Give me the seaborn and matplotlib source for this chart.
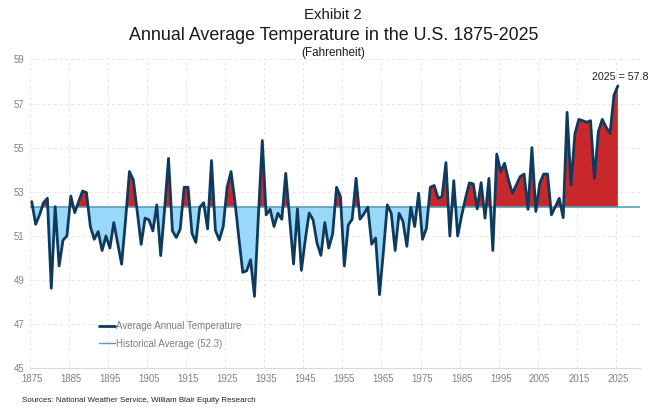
import numpy as np
import matplotlib
matplotlib.use("Agg")
import matplotlib.pyplot as plt
import seaborn as sns
import pandas as pd

# --- data (deg F) ---
years = list(range(1875, 2026))
temps = [
    52.55, 51.52, 51.95, 52.50, 52.70, 48.62, 52.32, 49.63, 50.80, 50.99,   # 1875-1884
    52.80, 52.05, 52.55, 53.03, 52.96, 51.42, 50.84, 51.19, 50.33, 50.99,   # 1885-1894
    50.44, 51.60, 50.66, 49.71, 51.70, 53.91, 53.53, 52.10, 50.61, 51.80,   # 1895-1904
    51.72, 51.22, 52.40, 50.10, 52.20, 54.51, 51.22, 50.92, 51.30, 53.20,   # 1905-1914
    53.20, 51.11, 50.70, 52.30, 52.50, 51.31, 54.41, 51.24, 50.81, 51.42,   # 1915-1924
    53.20, 53.91, 52.56, 50.90, 49.34, 49.41, 49.91, 48.25, 51.90, 55.32,   # 1925-1934
    51.95, 52.20, 51.42, 52.02, 51.75, 53.83, 51.80, 49.72, 52.22, 49.43,   # 1935-1944
    50.82, 52.03, 51.72, 50.67, 50.11, 51.60, 50.44, 51.08, 53.20, 52.78,   # 1945-1954
    49.63, 51.49, 51.75, 53.61, 51.75, 51.99, 52.30, 50.62, 50.90, 48.33,   # 1955-1964
    50.30, 52.40, 52.02, 50.33, 52.02, 51.65, 50.52, 52.30, 51.42, 52.93,   # 1965-1974
    50.84, 51.34, 53.20, 53.28, 52.70, 52.78, 54.32, 50.99, 53.50, 50.99,   # 1975-1984
    51.90, 52.70, 53.40, 53.35, 52.22, 53.41, 51.80, 53.60, 50.33, 54.71,   # 1985-1994
    53.91, 54.29, 53.53, 52.93, 53.30, 53.68, 53.80, 52.20, 55.00, 52.10,   # 1995-2004
    53.38, 53.80, 53.80, 51.95, 52.32, 52.70, 51.82, 56.60, 53.30, 55.62,   # 2005-2014
    56.28, 56.22, 56.15, 56.22, 53.60, 55.72, 56.28, 55.92, 55.65, 57.38,   # 2015-2024
    57.80,                                                                  # 2025
]
hist_avg = 52.3
x_ticks = list(range(1875, 2026, 10))
y_ticks = list(range(45, 60, 2))

df = pd.DataFrame({"Year": years, "Temp": temps})

sns.set_theme(style="white")
plt.rcParams['font.family'] = ['Liberation Sans', 'DejaVu Sans']

line_col = "#0D3B5E"
red = "#C8282C"
blue = "#9AD8FA"
avg_col = "#5A9DBB"
grid_col = "#E6E6E6"
tick_col = "#808080"

fig = plt.figure(figsize=(6.62, 4.07), dpi=100)
ax = fig.add_axes([0.045, 0.0958, 0.922, 0.7582])

yr = np.array(years, dtype=float)
tv = np.array(temps)
ax.fill_between(yr, tv, hist_avg, where=tv >= hist_avg, interpolate=True,
                color=red, linewidth=0, zorder=2)
ax.fill_between(yr, tv, hist_avg, where=tv <= hist_avg, interpolate=True,
                color=blue, linewidth=0, zorder=2)

ax.axhline(hist_avg, color=avg_col, linewidth=1.2, zorder=3)
sns.lineplot(data=df, x="Year", y="Temp", ax=ax, color=line_col, linewidth=2.0,
             zorder=4, legend=False)

ax.set_xlim(1874.5, 2030.7)
ax.set_ylim(45, 59)
ax.set_xticks(x_ticks)
ax.set_yticks(y_ticks)
ax.set_xticklabels([str(t) for t in x_ticks], fontsize=6.9, color=tick_col)
ax.set_yticklabels([str(t) for t in y_ticks], fontsize=6.9, color=tick_col)
ax.tick_params(axis="both", length=0, pad=4)
ax.set_xlabel("")
ax.set_ylabel("")

# dashed grid; vertical lines sit between categories like the original
for yv in y_ticks[1:]:
    ax.axhline(yv, color=grid_col, linewidth=0.7, linestyle=(0, (3, 3)), zorder=0)
for xv in x_ticks:
    ax.axvline(xv - 0.5, color=grid_col, linewidth=0.7, linestyle=(0, (3, 3)), zorder=0)

for s in ["top", "right", "left"]:
    ax.spines[s].set_visible(False)
ax.spines["bottom"].set_color("#D9D9D9")
ax.spines["bottom"].set_linewidth(0.8)

# legend
handles = [plt.Line2D([], [], color=line_col, linewidth=2.0),
           plt.Line2D([], [], color=avg_col, linewidth=1.0)]
labels = ["Average Annual Temperature", "Historical Average (52.3)"]
leg = ax.legend(handles, labels, loc="upper left", bbox_to_anchor=(0.113, 0.152),
                frameon=False, fontsize=7.0, handlelength=1.7, handletextpad=0.05,
                labelspacing=0.8, borderaxespad=0, borderpad=0)
for t in leg.get_texts():
    t.set_color("#7F7F7F")

ax.annotate("2025 = 57.8", xy=(years[-1], temps[-1]), xytext=(2, 3),
            textcoords="offset points", ha="center", va="bottom",
            fontsize=7.7, color="#222222")

fig.text(0.503, 0.964, "Exhibit 2", ha="center", va="center", fontsize=10.8, color="#1A1A1A")
fig.text(0.504, 0.913, "Annual Average Temperature in the U.S. 1875-2025",
         ha="center", va="center", fontsize=12.9, color="#1A1A1A")
fig.text(0.503, 0.870, "(Fahrenheit)", ha="center", va="center", fontsize=8.4, color="#1A1A1A")
fig.text(0.033, 0.017, "Sources: National Weather Service, William Blair Equity Research",
         ha="left", va="center", fontsize=5.8, color="#222222")

fig.savefig("out.png", dpi=100)
